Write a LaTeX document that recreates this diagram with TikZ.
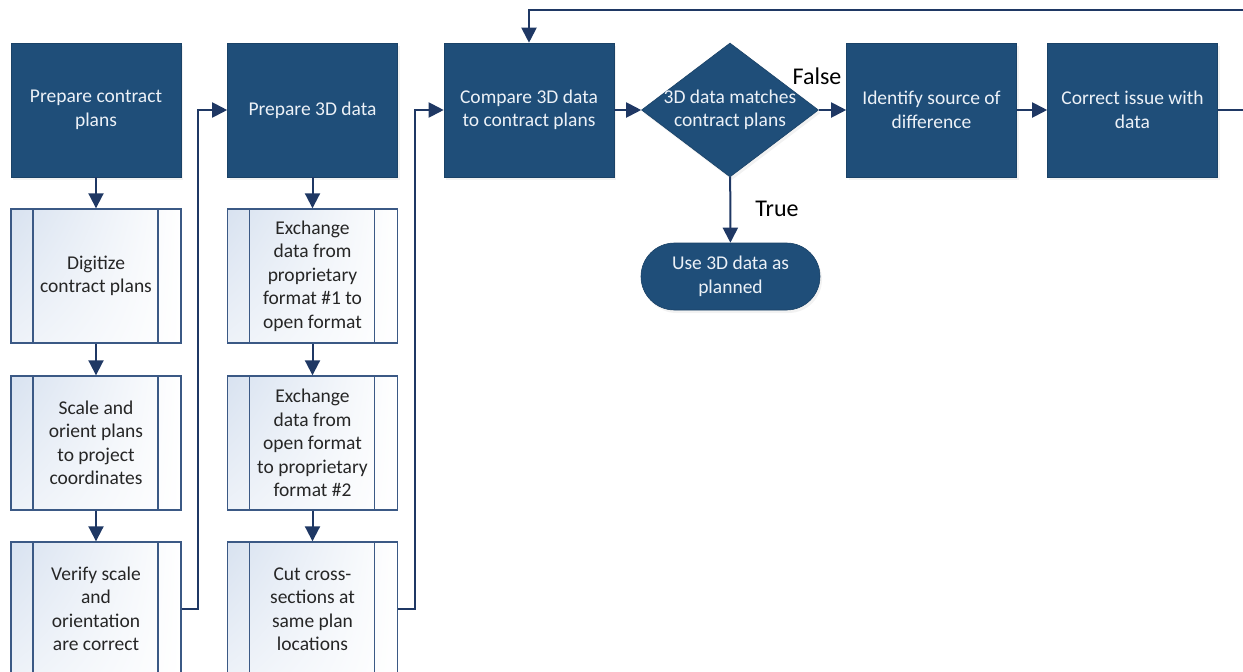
\documentclass[tikz,border=0pt]{standalone}
\usepackage{fontspec}
\setmainfont{Carlito}
\usetikzlibrary{arrows.meta,shapes.geometric,shapes.misc,shadings,shadows}
\definecolor{boxblue}{RGB}{31,78,121}
\definecolor{linenavy}{RGB}{31,56,100}
\definecolor{subedge}{RGB}{59,89,133}
\definecolor{subtint}{RGB}{216,226,240}
\definecolor{subtext}{RGB}{38,38,38}
\definecolor{lighttext}{RGB}{236,241,247}
\begin{document}
\begin{tikzpicture}[x=1pt,y=-1pt,
  base/.style={font=\fontsize{19.5}{23.5}\selectfont, align=center, inner sep=0pt},
  procbox/.style={base, rectangle, fill=boxblue, draw=boxblue!85!black, line width=0.6pt,
    text=lighttext, minimum width=170pt, minimum height=134pt,
    drop shadow={opacity=0.10, shadow xshift=2pt, shadow yshift=-3pt}},
  decision/.style={diamond, fill=boxblue, draw=boxblue!85!black, line width=0.6pt,
    minimum width=177pt, minimum height=134pt, inner sep=0pt,
    drop shadow={opacity=0.10, shadow xshift=2pt, shadow yshift=-3pt}},
  terminal/.style={base, rounded rectangle, fill=boxblue, draw=boxblue!85!black, line width=0.6pt,
    text=lighttext, minimum width=179pt, minimum height=67pt,
    drop shadow={opacity=0.10, shadow xshift=2pt, shadow yshift=-3pt}},
  subproc/.style={base, rectangle, draw=subedge, line width=1.4pt, text=subtext,
    minimum width=170pt, minimum height=134pt,
    shade, upper left=subtint, upper right=white, lower left=white!55!subtint, lower right=white,
    path picture={
      \draw[subedge, line width=1.4pt]
        ([xshift=22pt]path picture bounding box.north west) -- ([xshift=22pt]path picture bounding box.south west)
        ([xshift=-23pt]path picture bounding box.north east) -- ([xshift=-23pt]path picture bounding box.south east);
    }},
  arr/.style={draw=linenavy, line width=2pt, -{Triangle[length=15pt,width=15pt]}},
  branch/.style={font=\fontsize{24}{28}\selectfont, text=black, inner sep=0pt}
]
\useasboundingbox (0,0) rectangle (1243,672);
\clip (0,0) rectangle (1243,672);

% top row
\node[procbox] (p1) at (96,110) {Prepare contract\\plans};
\node[procbox] (p2) at (312.5,110) {Prepare 3D data};
\node[procbox] (cmp) at (529,110) {Compare 3D data\\to contract plans};
\node[decision, label={[base, text=lighttext]center:3D data matches\\contract plans}] (dec) at (730,110) {};
\node[procbox] (idf) at (931.5,110) {Identify source of\\difference};
\node[procbox] (cor) at (1132.5,110) {Correct issue with\\data};
\node[terminal] (use) at (730.5,276.5) {Use 3D data as\\planned};

% column 1
\node[subproc] (s1) at (96,276) {Digitize\\contract plans};
\node[subproc] (s2) at (96,443) {Scale and\\orient plans\\to project\\coordinates};
\node[subproc] (s3) at (96,609) {Verify scale\\and\\orientation\\are correct};

% column 2
\node[subproc] (t1) at (312.5,276) {Exchange\\data from\\proprietary\\format \#1 to\\open format};
\node[subproc] (t2) at (312.5,443) {Exchange\\data from\\open format\\to proprietary\\format \#2};
\node[subproc] (t3) at (312.5,609) {Cut cross-\\sections at\\same plan\\locations};

\coordinate (loop) at (1270,10);

% connectors
\draw[arr] (p1) -- (s1);
\draw[arr] (s1) -- (s2);
\draw[arr] (s2) -- (s3);
\draw[arr] (s3.east) -- ++(16,0) |- (p2.west);
\draw[arr] (p2) -- (t1);
\draw[arr] (t1) -- (t2);
\draw[arr] (t2) -- (t3);
\draw[arr] (t3.east) -- ++(17,0) |- (cmp.west);
\draw[arr] (cmp) -- (dec);
\draw[arr] (dec) -- (idf);
\draw[arr] (idf) -- (cor);
\draw[arr] (cor.east) -| (loop) -| (cmp.north);
\draw[arr] (dec) -- (use);

\node[branch] (lfalse) at (817,76) {False};
\node[branch] (ltrue) at (777,209) {True};
\end{tikzpicture}
\end{document}
